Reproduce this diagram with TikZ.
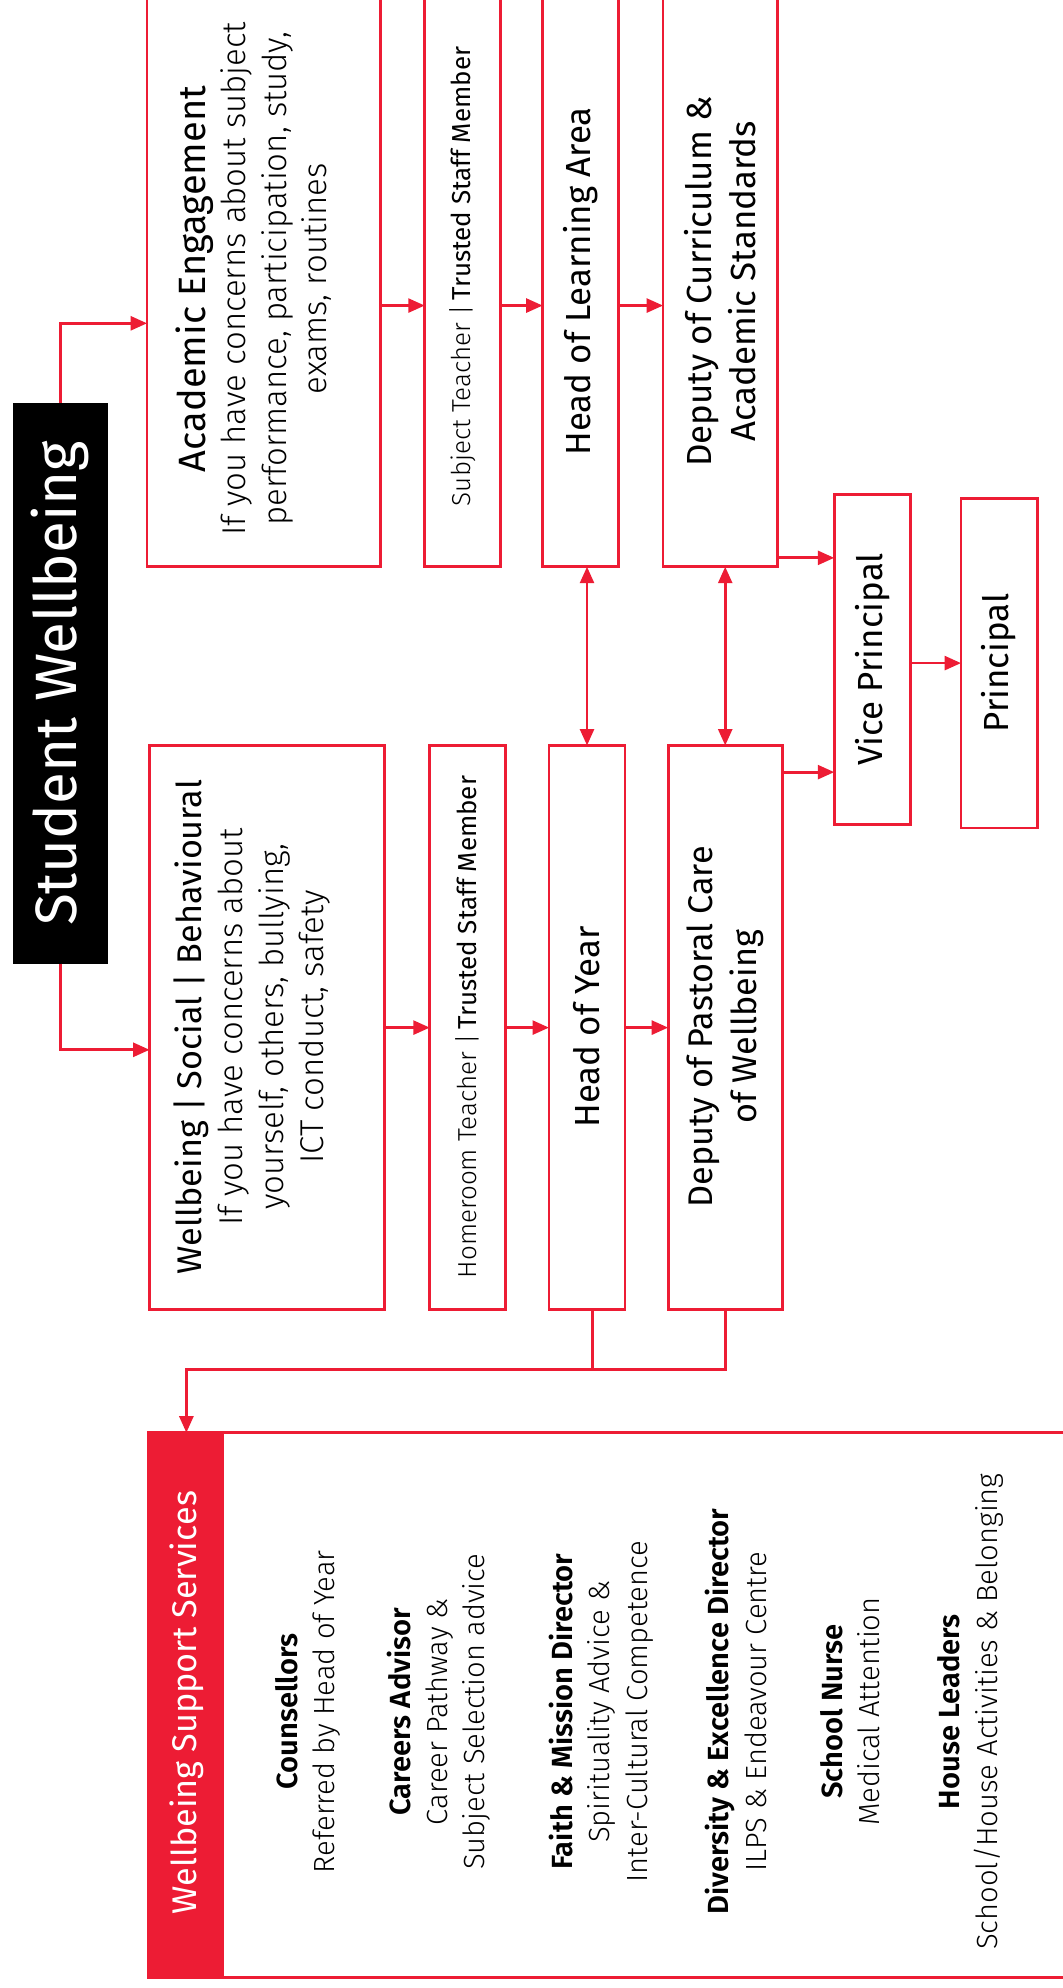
\documentclass[tikz,border=0pt]{standalone}
\usepackage{fontspec}
\setmainfont{Fira Sans}
\newfontfamily\fReg{Fira Sans}
\newfontfamily\fLight{Fira Sans Light}
\newfontfamily\fSemi{Fira Sans SemiBold}
\usetikzlibrary{arrows.meta}
\definecolor{wred}{RGB}{237,28,52}
\begin{document}
\begin{tikzpicture}[x=1pt,y=-1pt,
  box/.style={draw=wred,line width=2.2pt,inner sep=0pt,outer sep=0pt},
  txt/.style={rotate=90,align=center,inner sep=0pt,text=black},
  arr/.style={draw=wred,line width=2.2pt,-{Triangle[length=13pt,width=11pt]}},
  darr/.style={draw=wred,line width=2.2pt,{Triangle[length=13pt,width=11pt]}-{Triangle[length=13pt,width=11pt]}},
  ln/.style={draw=wred,line width=2.2pt},
  big/.style={font=\fontsize{27.5}{34}\selectfont\fReg},
  body/.style={font=\fontsize{26}{32}\selectfont\fLight},
  small/.style={font=\fontsize{20.5}{24}\selectfont\fReg},
  entry/.style={font=\fontsize{23}{29.5}\selectfont\fLight}
]
\useasboundingbox (0,0) rectangle (838,1568);
\fill[white] (0,0) rectangle (838,1568);

% title
\node[fill=black,minimum width=75pt,minimum height=442pt,inner sep=0pt,outer sep=0pt] (title) at (47.5,539) {};
\node[txt,text=white,font=\fontsize{46}{50}\selectfont\fReg] (titlet) at (47.5,539) {Student Wellbeing};

% top row (academic)
\node[box,minimum width=184pt,minimum height=467pt] (acad) at (208,213.5) {};
\node[box,minimum width=60pt,minimum height=467pt] (subj) at (365,213.5) {};
\node[box,minimum width=60pt,minimum height=467pt] (hola) at (458,213.5) {};
\node[box,minimum width=90pt,minimum height=467pt] (depc) at (568,213.5) {};

\node[txt,body] (acadt) at (200,220) {{\fontsize{30}{32}\fReg Academic Engagement}\\If you have concerns about subject\\performance, participation, study,\\exams, routines};
\node[txt,small] (subjt) at (365,218) {{\fLight Subject Teacher |}\,Trusted Staff Member};
\node[txt,big] (holat) at (458,222) {Head of Learning Area};
\node[txt,font=\fontsize{27.5}{35}\selectfont\fReg] (depct) at (568,222) {Deputy of Curriculum \&\\Academic Standards};

% bottom row (wellbeing)
\node[box,minimum width=185pt,minimum height=445pt] (wb) at (210.5,810.5) {};
\node[box,minimum width=60pt,minimum height=445pt] (home) at (369,810.5) {};
\node[box,minimum width=60pt,minimum height=445pt] (hoy) at (463,810.5) {};
\node[box,minimum width=90pt,minimum height=445pt] (depp) at (572,810.5) {};

\node[txt,body] (wbt) at (199,810) {{\fontsize{27}{32}\fReg Wellbeing | Social | Behavioural}\\If you have concerns about\\yourself, others, bullying,\\ICT conduct, safety};
\node[txt,small] (homet) at (369,810) {{\fLight Homeroom Teacher |}\,Trusted Staff Member};
\node[txt,big] (hoyt) at (463,810) {Head of Year};
\node[txt,font=\fontsize{27}{35}\selectfont\fReg] (deppt) at (572,810) {Deputy of Pastoral Care\\of Wellbeing};

% leadership
\node[box,minimum width=60pt,minimum height=260pt] (vp) at (688,520) {};
\node[box,minimum width=60pt,minimum height=260pt] (prin) at (788,523) {};
\node[txt,big] (vpt) at (688,520) {Vice Principal};
\node[txt,big] (print) at (788,523) {Principal};

% support services
\node[box,minimum width=753pt,minimum height=430pt] (sup) at (493.5,1345) {};
\node[fill=wred,minimum width=60pt,minimum height=430pt,inner sep=0pt,outer sep=0pt] (hdr) at (147,1345) {};
\node[txt,text=white,font=\fontsize{27}{30}\selectfont\fReg] (hdrt) at (147,1343) {Wellbeing Support Services};

\node[txt,entry] (e1) at (243,1350) {{\fSemi Counsellors}\\Referred by Head of Year};
\node[txt,entry] (e2) at (346,1350) {{\fSemi Careers Advisor}\\Career Pathway \&\\Subject Selection advice};
\node[txt,entry] (e3) at (474,1350) {{\fSemi Faith \& Mission Director}\\Spirituality Advice \&\\Inter-Cultural Competence};
\node[txt,entry] (e4) at (580.5,1350) {{\fSemi Diversity \& Excellence Director}\\ILPS \& Endeavour Centre};
\node[txt,entry] (e5) at (670.5,1350) {{\fSemi School Nurse}\\Medical Attention};
\node[txt,entry] (e6) at (765.5,1350) {{\fSemi House Leaders}\\School/House Activities \& Belonging};

% connectors
\coordinate (ja) at (47.5,255);
\coordinate (jw) at (47.5,828);
\coordinate (ya) at (0,241);
\coordinate (yv1) at (0,440);
\coordinate (yv2) at (0,609);
\coordinate (yv3) at (0,523);
\coordinate (jb) at (0,1080);
\coordinate (hyd) at (467.5,0);

\draw[arr] (title.north) |- (acad.west |- ja);
\draw[arr] (title.south) |- (wb.west |- jw);

\draw[arr] (acad.east |- ya) -- (subj.west |- ya);
\draw[arr] (subj.east |- ya) -- (hola.west |- ya);
\draw[arr] (hola.east |- ya) -- (depc.west |- ya);

\draw[arr] (wb.east) -- (home.west);
\draw[arr] (home.east) -- (hoy.west);
\draw[arr] (hoy.east) -- (depp.west);

\draw[darr] (hola.south -| hoy.north) -- (hoy.north);
\draw[darr] (depc.south -| depp.north) -- (depp.north);

\draw[arr] (depc.east |- yv1) -- (vp.west |- yv1);
\draw[arr] (depp.east |- yv2) -- (vp.west |- yv2);
\draw[arr] (vp.east |- yv3) -- (prin.west |- yv3);

\draw[ln] (hoy.south -| hyd) -- (hyd |- jb);
\draw[arr] (depp.south) |- (hdr.north |- jb) -- (hdr.north);
\end{tikzpicture}
\end{document}
